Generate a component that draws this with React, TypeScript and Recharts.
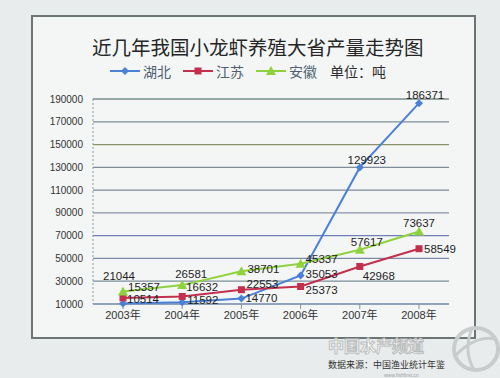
import { LineChart, Line, XAxis, YAxis, CartesianGrid, LabelList } from "recharts";

const years = ["2003年", "2004年", "2005年", "2006年", "2007年", "2008年"];
const hubei = [10514, 11592, 14770, 35053, 129923, 186371];
const jiangsu = [15357, 16632, 22553, 25373, 42968, 58549];
const anhui = [21044, 26581, 38701, 45337, 57617, 73637];
const yTicks = [10000, 30000, 50000, 70000, 90000, 110000, 130000, 150000, 170000, 190000];

const data = years.map((year, i) => ({
  year,
  hubei: hubei[i],
  jiangsu: jiangsu[i],
  anhui: anhui[i],
}));

// label placement relative to each point: [dx, dy, anchor]
type Place = [number, number, "start" | "middle"];
const hubeiPlace: Place[] = [[4, -4, "start"], [5, -2, "start"], [4, -1, "start"], [5, -1, "start"], [7, -7, "middle"], [6, -8, "middle"]];
const jiangsuPlace: Place[] = [[5, -11, "start"], [4, -9, "start"], [5, -6, "start"], [5, 4, "start"], [3, 10, "start"], [5, 0, "start"]];
const anhuiPlace: Place[] = [[-4, -15, "middle"], [9, -11, "middle"], [6, -2, "start"], [5, -5, "start"], [7, -8, "middle"], [0, -9, "middle"]];

const gridColors = ["#6f86a8", "#7d8f9a", "#7b8aa6", "#6f80b8", "#8794a2", "#7b8a96", "#7f8c98", "#8c9266", "#7f8e95", "#7d8a8a"];

const series = [
  { key: "hubei", name: "湖北", color: "#4a80d6", shape: "diamond", place: hubeiPlace },
  { key: "jiangsu", name: "江苏", color: "#c2304e", shape: "square", place: jiangsuPlace },
  { key: "anhui", name: "安徽", color: "#8fd23e", shape: "triangle", place: anhuiPlace },
];

function Marker({ cx, cy, shape, color }: any) {
  if (cx == null || cy == null) return null;
  if (shape === "diamond")
    return <path d={`M${cx},${cy - 4}L${cx + 4},${cy}L${cx},${cy + 4}L${cx - 4},${cy}Z`} fill={color} />;
  if (shape === "square") return <rect x={cx - 3.5} y={cy - 3.5} width={7} height={7} fill={color} />;
  return <path d={`M${cx},${cy - 5}L${cx + 5},${cy + 4}L${cx - 5},${cy + 4}Z`} fill={color} />;
}

function makeLabel(place: Place[]) {
  return (props: any) => {
    const { x, y, value, index } = props;
    const [dx, dy, anchor] = place[index];
    return (
      <text x={x + dx} y={y + dy} textAnchor={anchor} dominantBaseline="central" fontSize={11.5} fill="#1e1e1e" fontFamily="Liberation Sans, Arial, sans-serif">
        {value}
      </text>
    );
  };
}

function LegendMark({ shape, color }: any) {
  return (
    <svg width={32} height={12} style={{ verticalAlign: "middle" }}>
      <line x1={1} y1={6} x2={31} y2={6} stroke={color} strokeWidth={2} />
      <Marker cx={16} cy={6} shape={shape} color={color} />
    </svg>
  );
}

export default function App() {
  return (
    <div style={{ position: "relative", width: 500, height: 378, background: "#e9ecec", overflow: "hidden", fontFamily: "'Noto Sans CJK SC', sans-serif" }}>
      <style>{"body{margin:0}"}</style>
      <div style={{ position: "absolute", left: 31, top: 15, width: 441, height: 320, border: "2px solid #6c7474", background: "#f4f6f6" }} />
      <div style={{ position: "absolute", left: 92, top: 33, width: 322, textAlign: "center", fontSize: 19.5, color: "#262626", lineHeight: "28px", whiteSpace: "nowrap" }}>
        近几年我国小龙虾养殖大省产量走势图
      </div>
      <div style={{ position: "absolute", left: 109, top: 61, fontSize: 14, lineHeight: "20px", whiteSpace: "nowrap", display: "flex", alignItems: "center" }}>
        {series.map((s) => (
          <span key={s.key} style={{ display: "inline-flex", alignItems: "center", marginRight: 11, color: "#4e5f72" }}>
            <LegendMark shape={s.shape} color={s.color} />
            <span style={{ marginLeft: 2 }}>{s.name}</span>
          </span>
        ))}
        <span style={{ color: "#2c2c2c", marginLeft: 2 }}>单位：吨</span>
      </div>
      <div style={{ position: "absolute", left: 0, top: 0 }}>
        <LineChart width={500} height={378} data={data} margin={{ top: 99, right: 51, bottom: 44, left: 33 }}>
          <CartesianGrid
            vertical={false}
            horizontal={(p: any) => (
              <line key={p.key} x1={p.x1} y1={p.y1} x2={p.x2} y2={p.y2} stroke={gridColors[p.index % gridColors.length]} strokeWidth={1.3} />
            )}
          />
          <XAxis
            dataKey="year"
            padding={{ left: 30, right: 30 }}
            axisLine={false}
            tickLine={{ stroke: "#8a9296" }}
            tickSize={5}
            tick={{ fontSize: 11, fill: "#333", fontFamily: "Liberation Sans, 'Noto Sans CJK SC', sans-serif" }}
          />
          <YAxis
            width={60}
            domain={[10000, 190000]}
            ticks={yTicks}
            interval={0}
            axisLine={{ stroke: "#8a9aa0", strokeDasharray: "2 2" }}
            tickLine={false}
            tick={{ fontSize: 10, fill: "#333", dx: -2, fontFamily: "Liberation Sans, Arial, sans-serif" }}
          />
          {series.map((s) => (
            <Line
              key={s.key}
              dataKey={s.key}
              stroke={s.color}
              strokeWidth={2}
              isAnimationActive={false}
              dot={(p: any) => <Marker key={`${s.key}-${p.index}`} cx={p.cx} cy={p.cy} shape={s.shape} color={s.color} />}
              activeDot={false}
            >
              <LabelList dataKey={s.key} content={makeLabel(s.place)} />
            </Line>
          ))}
        </LineChart>
      </div>
      <svg style={{ position: "absolute", left: 448, top: 325 }} width={52} height={53}>
        <ellipse cx={28} cy={24} rx={22} ry={21} fill="none" stroke="#c8cccc" strokeWidth={4} />
        <path d="M8,30 Q28,10 48,14" fill="none" stroke="#c8cccc" strokeWidth={3} />
        <path d="M24,3 Q15,26 26,45" fill="none" stroke="#c8cccc" strokeWidth={3} />
      </svg>
      <div
        style={{
          position: "absolute",
          left: 328,
          top: 337,
          fontSize: 16,
          lineHeight: "17px",
          fontWeight: "bold",
          color: "#ffffff",
          WebkitTextStroke: "1px #b9bcbc",
          whiteSpace: "nowrap",
        }}
      >
        中国水产频道
      </div>
      <div style={{ position: "absolute", left: 328, top: 360, fontSize: 9, lineHeight: "10px", color: "#333", whiteSpace: "nowrap" }}>
        数据来源：中国渔业统计年鉴
      </div>
      <div style={{ position: "absolute", left: 384, top: 372, fontSize: 5, lineHeight: "6px", color: "#9aa0a0", whiteSpace: "nowrap", fontFamily: "Liberation Sans, sans-serif" }}>
        www.fishfirst.cn
      </div>
    </div>
  );
}
